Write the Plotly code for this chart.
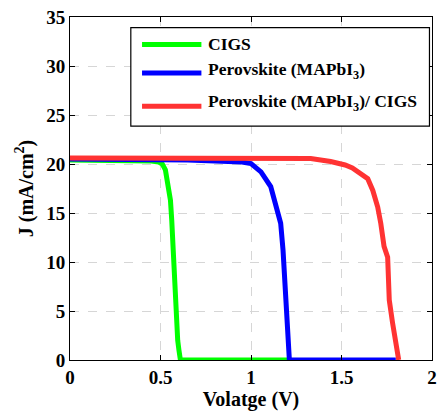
import plotly.graph_objects as go

# ---- data ----
cigs_v = [0, 0.1, 0.2, 0.3, 0.4, 0.45, 0.49, 0.51, 0.527, 0.542, 0.555, 0.562, 0.567, 0.573, 0.578, 0.585, 0.59, 0.595, 0.602, 0.61, 0.8, 1.0, 1.2]
cigs_j = [20.4, 20.4, 20.35, 20.35, 20.3, 20.3, 20.2, 20.0, 19.4, 18.0, 16.3, 14.3, 12.25, 9.5, 7.2, 5.5, 3.5, 2.0, 1.0, 0, 0, 0, 0]

pero_v = [0, 0.3, 0.5, 0.65, 0.8, 0.9, 0.95, 1.0, 1.055, 1.109, 1.136, 1.164, 1.177, 1.186, 1.195, 1.204, 1.208, 1.212, 1.4, 1.6, 1.8]
pero_j = [20.5, 20.5, 20.5, 20.4, 20.3, 20.3, 20.2, 20.05, 19.2, 17.7, 16.0, 13.95, 11.2, 8.2, 5.5, 2.75, 0.8, 0, 0, 0, 0]

tandem_v = [0, 0.5, 1.0, 1.3, 1.33, 1.44, 1.5, 1.52, 1.56, 1.6, 1.645, 1.673, 1.7, 1.717, 1.735, 1.755, 1.762, 1.764, 1.782, 1.8, 1.808, 1.816]
tandem_j = [20.6, 20.6, 20.6, 20.6, 20.55, 20.25, 20.0, 19.9, 19.6, 19.1, 18.5, 17.3, 15.6, 13.95, 11.6, 10.5, 8.3, 6.1, 3.8, 2.1, 1.0, 0]

names = ["CIGS", "Perovskite (MAPbI<sub>3</sub>)", "Perovskite (MAPbI<sub>3</sub>)/ CIGS"]
colors = ["#00ff00", "#0000ff", "#ff3333"]

x_ticks = [0, 0.5, 1, 1.5, 2]
x_tick_labels = ["0", "0.5", "1", "1.5", "2"]
y_ticks = [0, 5, 10, 15, 20, 25, 30, 35]

FONT = "Liberation Serif"

fig = go.Figure()
series = [(cigs_v, cigs_j), (pero_v, pero_j), (tandem_v, tandem_j)]
for (xv, yv), c, n in zip(series, colors, names):
    fig.add_trace(go.Scatter(x=xv, y=yv, mode="lines", name=n,
                             line=dict(color=c, width=5), showlegend=False))

axis_common = dict(
    showline=True, linecolor="black", linewidth=1, mirror="ticks",
    ticks="inside", ticklen=5, tickcolor="black",
    showgrid=True, gridcolor="#d6d6d6", griddash="dash", gridwidth=1,
    zeroline=False,
    tickfont=dict(family=FONT, size=19, color="black", weight="bold"),
)

fig.update_xaxes(range=[0, 2], tickvals=x_ticks, ticktext=x_tick_labels,
                 title=dict(text="Volatge (V)", font=dict(family=FONT, size=20, color="black", weight="bold"), standoff=2),
                 **axis_common)
fig.update_yaxes(range=[0, 35], tickvals=y_ticks,
                 title=dict(text="J (mA/cm<sup>2</sup>)", font=dict(family=FONT, size=20, color="black", weight="bold"), standoff=7),
                 **axis_common)

# manual legend
shapes = [dict(type="rect", xref="paper", yref="paper", x0=0.168, x1=0.993, y0=0.682, y1=0.969,
               line=dict(color="black", width=1.2), fillcolor="white", layer="above")]
rows_y = [0.920, 0.837, 0.740]
text_y = [0.920, 0.845, 0.750]
annotations = []
for c, n, ly, ty in zip(colors, names, rows_y, text_y):
    shapes.append(dict(type="line", xref="paper", yref="paper", x0=0.199, x1=0.363, y0=ly, y1=ly,
                       line=dict(color=c, width=5), layer="above"))
    annotations.append(dict(xref="paper", yref="paper", x=0.376, y=ty, text=n, showarrow=False,
                            xanchor="left", yanchor="middle",
                            font=dict(family=FONT, size=17.5, color="black", weight="bold")))

fig.update_layout(
    width=442, height=418,
    margin=dict(l=70, r=5, t=17, b=58),
    paper_bgcolor="white", plot_bgcolor="white",
    shapes=shapes, annotations=annotations,
    showlegend=False,
)

fig.write_html("out.html")
